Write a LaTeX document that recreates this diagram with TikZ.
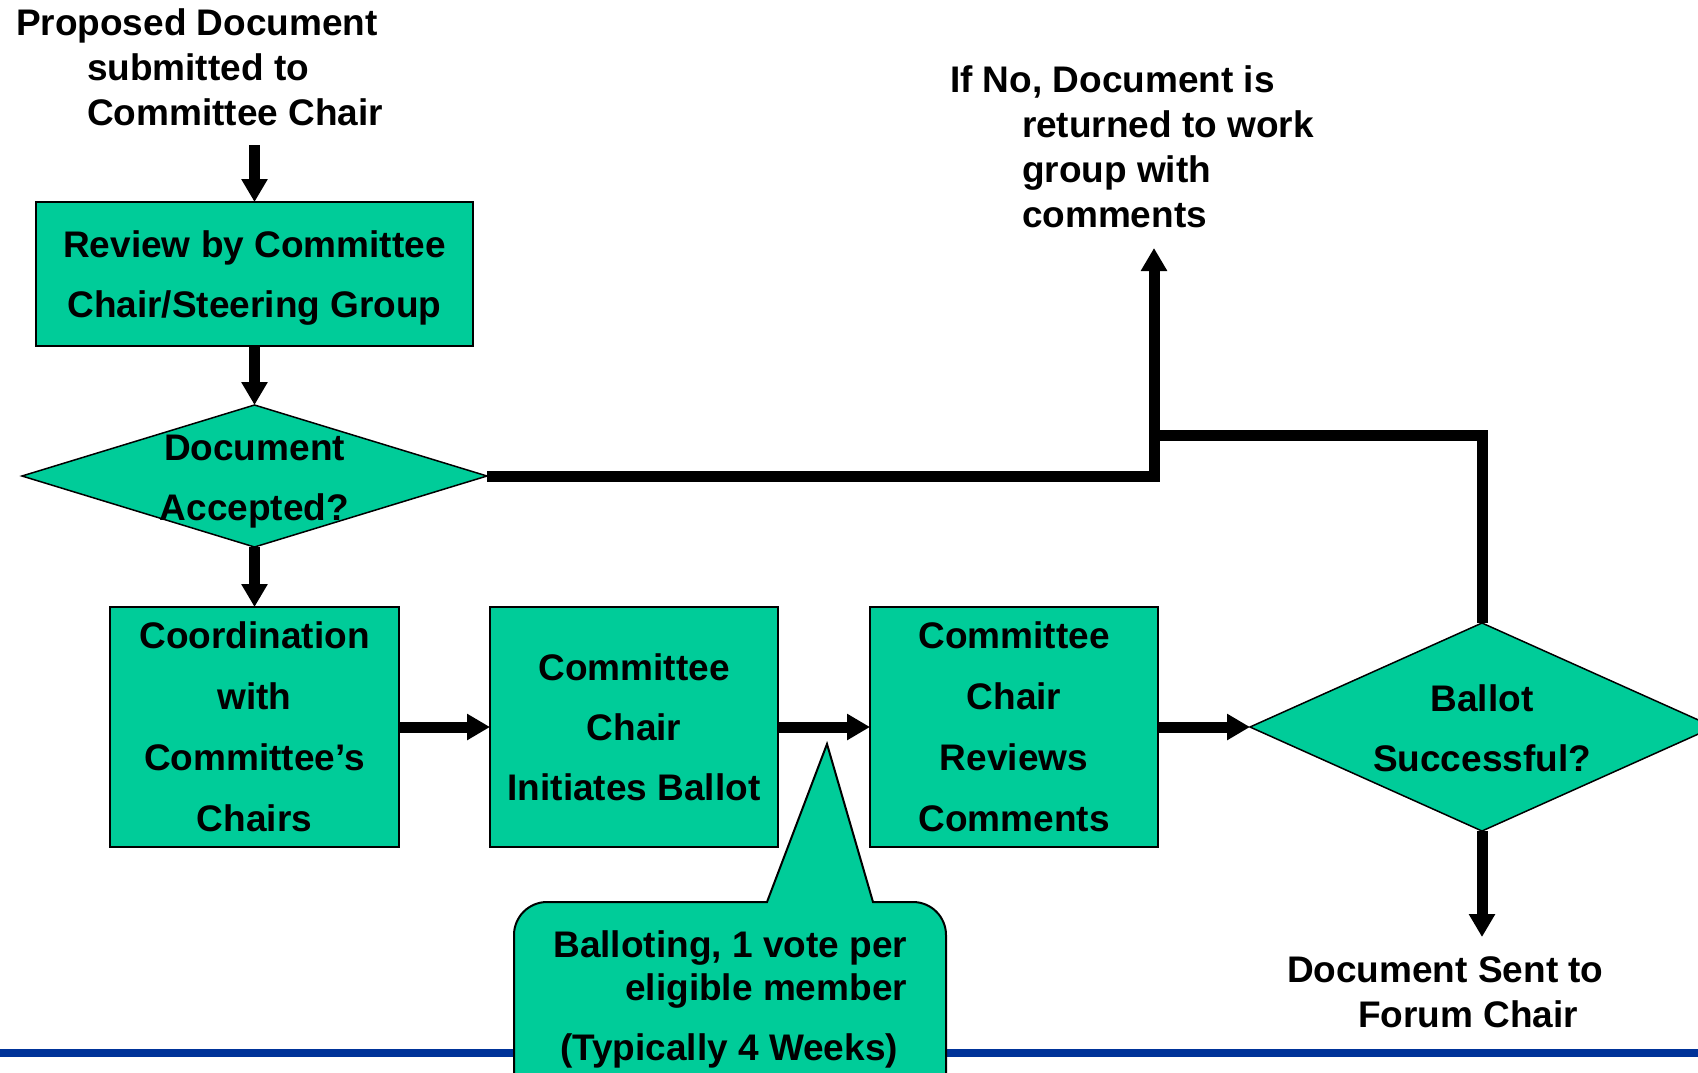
\documentclass[tikz,border=0pt]{standalone}
\usepackage{fontspec}
\setmainfont{Liberation Sans}
\usetikzlibrary{arrows.meta,shapes.geometric}
\definecolor{boxgreen}{RGB}{0,204,153}
\definecolor{rulblue}{RGB}{0,51,153}
\begin{document}
\begin{tikzpicture}[x=1pt,y=-1pt,
  every node/.style={font=\bfseries\fontsize{37}{60}\selectfont, inner sep=0pt, outer sep=0pt},
  procbox/.style={rectangle, draw=black, line width=2pt, fill=boxgreen, align=center},
  tallbox/.style={procbox, font=\bfseries\fontsize{37}{61}\selectfont},
  decision/.style={diamond, draw=black, line width=1.5pt, fill=boxgreen},
  flow/.style={line width=11pt, -{Triangle[width=25pt,length=23pt]}},
  plainline/.style={line width=11pt},
  freetext/.style={font=\bfseries\fontsize{37}{45}\selectfont, align=left, anchor=north west},
  callouttxt/.style={font=\bfseries\fontsize{37}{43}\selectfont, align=right, anchor=north east},
  calloutshape/.style={fill=boxgreen, draw=black, line width=2pt, line join=miter}
]
\fill[white] (0,0) rectangle (1698,1072);
\useasboundingbox (0,0) rectangle (1698,1072);

% bottom rule
\draw[rulblue, line width=8pt] (0,1053) -- (1698,1053);

% boxes
\node[procbox, minimum width=437pt, minimum height=144pt] (review) at (254.5,274)
  {Review by Committee\\\smash{Chair/Steering Group}};
\node[decision, minimum width=465pt, minimum height=142pt] (accepted) at (254.5,476) {};
\node[align=center] (acceptedtext) at (254.5,478) {Document\\\smash{Accepted?}};

\node[tallbox, minimum width=289pt, minimum height=240pt] (coord) at (254.5,727)
  {Coordination\\with\\Committee’s\\Chairs};
\node[procbox, minimum width=288pt, minimum height=240pt] (initiate) at (634,727)
  {Committee\\Chair\\Initiates Ballot};
\node[tallbox, minimum width=288pt, minimum height=240pt] (reviews) at (1014,727)
  {Committee\\Chair\\Reviews\\Comments};
\node[decision, minimum width=464pt, minimum height=208pt] (ballot) at (1482,727) {};
\node[align=center] (ballottext) at (1482,728) {Ballot\\Successful?};

% free texts
\node[freetext] (proposed) at (87,9)
  {\hspace*{-71pt}Proposed Document\\submitted to\\Committee Chair};
\node[freetext] (ifno) at (1022,66)
  {\hspace*{-72pt}If No, Document is\\returned to work\\group with\\comments};
\node[freetext] (sent) at (1358,957)
  {\hspace*{-71pt}Document Sent to\\Forum Chair};

% callout
\filldraw[calloutshape] (873,902) -- (913,902) arc[start angle=270, end angle=360, radius=33]
  -- (946,1120) -- (514,1120) -- (514,935) arc[start angle=180, end angle=270, radius=33]
  -- (767,902) -- (827,744) -- cycle;
\node[callouttxt] (ballotingtext) at (907,931)
  {Balloting, 1 vote per\\eligible member\\[17pt](Typically 4 Weeks)\rule{9pt}{0pt}};

% connectors
\coordinate (startarrow) at (254.5,145);
\coordinate (sentend) at (1482,937);
\coordinate (returnend) at (1154,248);
\coordinate (returnjoin) at (1154,435);

\draw[flow] (startarrow) -- (review.north);
\draw[flow] (review.south) -- (accepted.north);
\draw[flow] (accepted.south) -- (coord.north);
\draw[flow] (coord.east) -- (initiate.west);
\draw[flow] (initiate.east) -- (reviews.west);
\draw[flow] (reviews.east) -- (ballot.west);
\draw[flow] (ballot.south) -- (sentend);
\draw[flow, line join=miter] (accepted.east) -| (returnend);
\draw[plainline, line join=miter] (ballot.north) |- (returnjoin);
\end{tikzpicture}
\end{document}
